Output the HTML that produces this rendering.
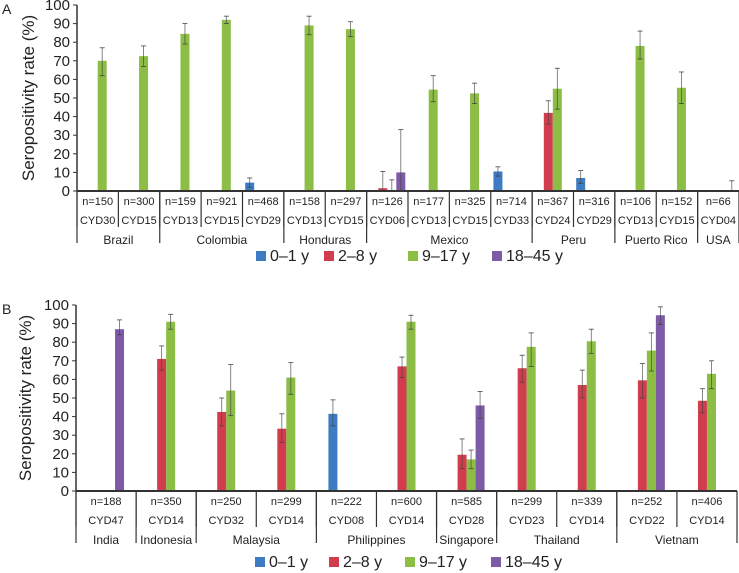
<!DOCTYPE html>
<html><head><meta charset="utf-8"><style>
body{margin:0;background:#fff;width:739px;height:573px;overflow:hidden}
svg{display:block;font-family:"Liberation Sans",Arial,sans-serif}
</style></head><body>
<svg id="c" width="739" height="573"></svg>
<script>
// ---- Panel A data ----
const catsA = ["CYD30","CYD15","CYD13","CYD15","CYD29","CYD13","CYD15","CYD06","CYD13","CYD15","CYD33","CYD24","CYD29","CYD13","CYD15","CYD04"];
const nA = ["n=150","n=300","n=159","n=921","n=468","n=158","n=297","n=126","n=177","n=325","n=714","n=367","n=316","n=106","n=152","n=66"];
const countriesA = [["Brazil",2],["Colombia",3],["Honduras",2],["Mexico",4],["Peru",2],["Puerto Rico",2],["USA",1]];
// values per series [0-1y, 2-8y, 9-17y, 18-45y]; null = none
const a01 = [null,null,null,null,4.5,null,null,null,null,null,10.5,null,7,null,null,null];
const a28 = [null,null,null,null,null,null,null,1.5,null,null,null,42,null,null,null,null];
const a917 = [70,72.5,84.5,92,null,89,87,0,54.5,52.5,null,55,null,78,55.5,null];
const a1845 = [null,null,null,null,null,null,null,10,null,null,null,null,null,null,null,0];
const a01Lo=[null,null,null,null,2,null,null,null,null,null,8,null,4,null,null,null];
const a01Hi=[null,null,null,null,7,null,null,null,null,null,13,null,11,null,null,null];
const a28Lo=[null,null,null,null,null,null,null,0,null,null,null,36,null,null,null,null];
const a28Hi=[null,null,null,null,null,null,null,10.5,null,null,null,48.5,null,null,null,null];
const a917Lo=[62,67,79,90,null,84,83,0,48,47,null,44,null,71,47,null];
const a917Hi=[77,78,90,94,null,94,91,6,62,58,null,66,null,86,64,null];
const a1845Lo=[null,null,null,null,null,null,null,0,null,null,null,null,null,null,null,0];
const a1845Hi=[null,null,null,null,null,null,null,33,null,null,null,null,null,null,null,5.5];
// ---- Panel B data ----
const catsB = ["CYD47","CYD14","CYD32","CYD14","CYD08","CYD14","CYD28","CYD23","CYD14","CYD22","CYD14"];
const nB = ["n=188","n=350","n=250","n=299","n=222","n=600","n=585","n=299","n=339","n=252","n=406"];
const countriesB = [["India",1],["Indonesia",1],["Malaysia",2],["Philippines",2],["Singapore",1],["Thailand",2],["Vietnam",2]];
const b01 = [null,null,null,null,41.5,null,null,null,null,null,null];
const b28 = [null,71,42.5,33.5,null,67,19.5,66,57,59.5,48.5];
const b917 = [null,91,54,61,null,91,17,77.5,80.5,75.5,63];
const b1845 = [87,null,null,null,null,null,46,null,null,94.5,null];
const b01Lo=[null,null,null,null,35,null,null,null,null,null,null];
const b01Hi=[null,null,null,null,49,null,null,null,null,null,null];
const b28Lo=[null,65,35,26,null,61,12,58.5,50,50,42];
const b28Hi=[null,78,50,41.5,null,72,28,73,65,68.5,55];
const b917Lo=[null,87,40.5,52,null,87,12,67,74,64.5,55];
const b917Hi=[null,95,68,69,null,94.5,22,85,87,85,70];
const b1845Lo=[84,null,null,null,null,null,39,null,null,89.5,null];
const b1845Hi=[92,null,null,null,null,null,53.5,null,null,99,null];
const yTicks = [0,10,20,30,40,50,60,70,80,90,100];
const legendLabels = ["0\u20131 y","2\u20138 y","9\u201317 y","18\u201345 y"];
const colors = ["#3d7cc2","#d23d4e","#8cbd45","#7e5ba6"];

const NS="http://www.w3.org/2000/svg";
const svg=document.getElementById('c');
function mk(tag,attrs,parent,text){const e=document.createElementNS(NS,tag);for(const k in attrs)e.setAttribute(k,attrs[k]);if(text!==undefined)e.textContent=text;(parent||svg).appendChild(e);return e;}

function panel(o){
  const g=mk('g',{});
  
  
  const x0=o.x0,x1=o.x1,y0=o.y0,yTop=o.yTop;
  const cw=(x1-x0)/o.cats.length;
  const ys=v=>y0-(v/100)*(y0-yTop);
  const L=mk('text',{x:2,y:yTop+9,'font-size':14,fill:'#222'},g,o.letter);
  
  
  const yt=mk('text',{x:0,y:0,'font-size':17,fill:'#222','text-anchor':'middle',transform:`translate(${o.titleX},${(y0+yTop)/2}) rotate(-90)`},g,"Seropositivity rate (%)");
  
  
  mk('line',{x1:x0,y1:yTop,x2:x0,y2:y0,stroke:'#333','stroke-width':1.5},g);
  yTicks.forEach(t=>{
    const y=ys(t);
    mk('line',{x1:x0-4,y1:y,x2:x0,y2:y,stroke:'#333','stroke-width':1},g);
    const tl=mk('text',{x:x0-7,y:y+5,'font-size':15,fill:'#222','text-anchor':'end'},g,String(t));
    
    
  });
  // bars
  const offs=[-18,-9,0,9];
  o.series.forEach((s,si)=>{
    s.v.forEach((v,i)=>{
      if(v===null)return;
      const cx=x0+cw*(i+0.5);
      const bx=cx+offs[si];
      if(v>0){
        const r=mk('rect',{x:bx,y:ys(v),width:9,height:y0-ys(v),fill:colors[si]},g);
        
        
      }
      const ex=bx+4.5;
      mk('line',{x1:ex,y1:ys(s.hi[i]),x2:ex,y2:ys(s.lo[i]),stroke:'#444','stroke-width':0.8,opacity:0.8},g);
      mk('line',{x1:ex-2.5,y1:ys(s.hi[i]),x2:ex+2.5,y2:ys(s.hi[i]),stroke:'#444','stroke-width':0.8},g);
      mk('line',{x1:ex-2.5,y1:ys(s.lo[i]),x2:ex+2.5,y2:ys(s.lo[i]),stroke:'#444','stroke-width':0.8},g);
    });
  });
  // table
  mk('line',{x1:x0,y1:y0,x2:x1,y2:y0,stroke:'#333','stroke-width':2},g);
  o.cats.forEach((c,i)=>{
    const cx=x0+cw*(i+0.5);
    mk('line',{x1:x0+cw*i,y1:y0,x2:x0+cw*i,y2:y0+o.rowEnd,stroke:'#333','stroke-width':1.2},g);
    const t1=mk('text',{x:cx,y:y0+14,'font-size':11,fill:'#222','text-anchor':'middle'},g,o.n[i]);
    
    
    const t2=mk('text',{x:cx,y:y0+33,'font-size':11,fill:'#222','text-anchor':'middle'},g,c);
    
    
  });
  let k=0;
  mk('line',{x1:x0,y1:y0,x2:x0,y2:y0+o.countryEnd,stroke:'#333','stroke-width':1.2},g);
  o.countries.forEach(([name,cnt])=>{
    const xa=x0+cw*k,xb=x0+cw*(k+cnt);
    mk('line',{x1:xb,y1:y0,x2:xb,y2:y0+o.countryEnd,stroke:'#333','stroke-width':1.2},g);
    const t=mk('text',{x:(xa+xb)/2,y:y0+53,'font-size':12,fill:'#222','text-anchor':'middle'},g,name);
    
    
    k+=cnt;
  });
  // legend
  o.legX.forEach((lx,si)=>{
    const le=mk('g',{},g);
    
    
    mk('rect',{x:lx,y:o.legY-9,width:10,height:10,fill:colors[si]},le);
    mk('text',{x:lx+14,y:o.legY+1,'font-size':16,fill:'#222'},le,legendLabels[si]);
  });
}
panel({name:'panel-a',letter:'A',x0:77,x1:739,y0:191,yTop:5,titleX:34,cats:catsA,n:nA,countries:countriesA,rowEnd:36,countryEnd:52,
  series:[{v:a01,lo:a01Lo,hi:a01Hi},{v:a28,lo:a28Lo,hi:a28Hi},{v:a917,lo:a917Lo,hi:a917Hi},{v:a1845,lo:a1845Lo,hi:a1845Hi}],
  legX:[256,324,408,492],legY:260});
panel({name:'panel-b',letter:'B',x0:76,x1:737,y0:491,yTop:305,titleX:31,cats:catsB,n:nB,countries:countriesB,rowEnd:36,countryEnd:52,
  series:[{v:b01,lo:b01Lo,hi:b01Hi},{v:b28,lo:b28Lo,hi:b28Hi},{v:b917,lo:b917Lo,hi:b917Hi},{v:b1845,lo:b1845Lo,hi:b1845Hi}],
  legX:[255,329,405,491],legY:566});
</script>
</body></html>
